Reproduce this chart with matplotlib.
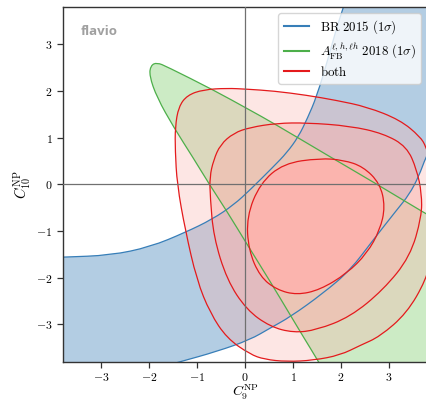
import numpy as np
import matplotlib

matplotlib.use("Agg")
import matplotlib.pyplot as plt
from matplotlib.path import Path
from matplotlib.patches import PathPatch
from matplotlib.lines import Line2D

plt.rcParams["mathtext.fontset"] = "cm"

# contour outlines, (C9, C10) pairs.
# points beyond +-3.8 only close the shapes outside the visible frame.
blue_upper = [(-4.2, -1.57), (-3.79, -1.56), (-2.81, -1.52), (-1.98, -1.34), (-1.25, -1.03),
              (-0.69, -0.75), (-0.24, -0.44), (0.10, -0.12), (0.59, 0.38), (0.87, 0.68),
              (1.11, 1.02), (1.30, 1.42), (1.49, 1.88), (1.74, 2.73), (1.91, 3.37),
              (2.05, 3.79), (2.15, 4.2)]
blue_lower = [(3.95, 0.95), (3.77, 0.59), (3.62, 0.17), (3.42, -0.22), (3.16, -0.55),
              (2.67, -1.19), (2.19, -1.84), (1.63, -2.33), (0.94, -2.84), (0.52, -3.08),
              (0.10, -3.33), (-0.59, -3.58), (-1.35, -3.80), (-2.0, -3.98)]
blue_corners_top = [(4.2, 4.2), (4.2, 1.2)]
blue_corners_bottom = [(-4.2, -4.2)]

green_outline = [(1.75, -4.2), (1.53, -3.80), (1.22, -3.28), (0.94, -2.80), (0.52, -2.08),
                 (0.03, -1.27), (-0.38, -0.58), (-0.76, 0.02), (-1.08, 0.56), (-1.49, 1.22),
                 (-1.84, 1.86), (-2.0, 2.33), (-1.97, 2.55), (-1.84, 2.61), (-1.63, 2.52),
                 (-0.66, 2.02), (0.10, 1.59), (0.59, 1.31), (1.77, 0.59), (2.67, 0.05),
                 (3.75, -0.62), (4.2, -0.88), (4.2, -4.2)]

red_3sigma = [(-1.42, 0.0), (-1.46, 0.73), (-1.46, 1.23), (-1.39, 1.66), (-1.21, 1.91),
              (-0.87, 2.03), (-0.38, 2.06), (0.03, 2.04), (0.6, 2.0), (1.28, 1.91),
              (1.9, 1.8), (2.54, 1.66), (3.23, 1.38), (3.65, 1.02), (3.77, 0.81),
              (3.9, 0.4), (3.95, -0.5), (3.9, -1.5), (3.77, -2.05), (3.37, -2.76),
              (2.81, -3.26), (2.40, -3.45), (1.98, -3.66), (1.42, -3.77), (0.87, -3.80),
              (0.40, -3.75), (0.10, -3.64), (-0.38, -3.30), (-0.73, -2.76), (-1.01, -2.05),
              (-1.25, -0.98)]
red_2sigma = [(-0.74, 0.16), (-0.66, 0.52), (-0.52, 0.85), (-0.24, 1.10), (0.10, 1.22),
              (0.66, 1.31), (1.28, 1.32), (2.19, 1.25), (2.88, 1.09), (3.37, 0.81),
              (3.58, 0.31), (3.68, -0.19), (3.68, -0.69), (3.44, -1.55), (2.88, -2.26),
              (2.19, -2.84), (1.49, -3.12), (1.01, -3.18), (0.52, -3.05), (0.03, -2.69),
              (-0.38, -2.05), (-0.66, -1.12), (-0.73, -0.27)]
red_1sigma = [(0.03, -0.69), (0.31, 0.02), (0.80, 0.45), (1.56, 0.56), (2.05, 0.52),
              (2.46, 0.38), (2.81, 0.02), (2.92, -0.48), (2.81, -0.98), (2.54, -1.48),
              (2.12, -1.91), (1.56, -2.26), (1.08, -2.37), (0.66, -2.26), (0.31, -1.98),
              (0.07, -1.41)]

ticks = [-3, -2, -1, 0, 1, 2, 3]
labels = [r"$\mathrm{BR\ 2015\ }(1\sigma)$",
          r"$A_\mathrm{FB}^{\ell,h,\ell h}\ \mathrm{2018\ }(1\sigma)$",
          r"$\mathrm{both}$"]

set1 = {"blue": "#377eb8", "green": "#4daf4a", "red": "#e41a1c"}
pastel = {"blue": "#b3cde3", "green": "#ccebc5", "red": "#fbb4ae"}


def smooth_path(pts):
    """closed path, quadratic segments through the midpoints of the outline."""
    pts = np.asarray(pts, dtype=float)
    mids = (pts + np.roll(pts, -1, axis=0)) / 2
    verts = [mids[-1]]
    codes = [Path.MOVETO]
    for p, m in zip(pts, mids):
        verts += [p, m]
        codes += [Path.CURVE3, Path.CURVE3]
    return Path(verts, codes)


fig = plt.figure(figsize=(4.26, 4.04), dpi=100)
ax = fig.add_axes([63 / 426, 42.3 / 404, 364.4 / 426, 354.7 / 404])

blue_path = smooth_path(blue_upper + blue_corners_top + blue_lower + blue_corners_bottom)
green_path = smooth_path(green_outline)
red_paths = [smooth_path(c) for c in (red_3sigma, red_2sigma, red_1sigma)]

ax.add_patch(PathPatch(blue_path, facecolor=pastel["blue"], edgecolor="none", zorder=1))
ax.add_patch(PathPatch(green_path, facecolor=pastel["green"], edgecolor="none", zorder=1.1))
for path, alpha in zip(red_paths, (1 / 3, 1 / 2, 1.0)):
    ax.add_patch(PathPatch(path, facecolor=pastel["red"], alpha=alpha, edgecolor="none", zorder=1.2))

ax.add_patch(PathPatch(blue_path, fill=False, edgecolor=set1["blue"], lw=0.9, zorder=2))
ax.add_patch(PathPatch(green_path, fill=False, edgecolor=set1["green"], lw=0.9, zorder=2))
for path in red_paths:
    ax.add_patch(PathPatch(path, fill=False, edgecolor=set1["red"], lw=0.9, zorder=2))

ax.axhline(0, color="#707070", lw=0.9, zorder=3)
ax.axvline(0, color="#707070", lw=0.9, zorder=3)

ax.set_xlim(-3.8, 3.8)
ax.set_ylim(-3.8, 3.8)
ax.set_xticks(ticks, [f"${t}$" for t in ticks], fontsize=8.5)
ax.set_yticks(ticks, [f"${t}$" for t in ticks], fontsize=8.5)
ax.tick_params(direction="out", length=4, width=0.9, color="#333333")
ax.tick_params(axis="x", pad=2.5)
for sp in ax.spines.values():
    sp.set_color("#333333")
    sp.set_linewidth(1.0)

# x label pinned just above the figure's bottom edge so the subscript stays inside
ax.set_xlabel(r"$C_9^\mathrm{NP}$", fontsize=10, va="bottom")
ax.xaxis.set_label_coords(0.5, -0.115)
ax.set_ylabel(r"$C_{10}^\mathrm{NP}$", fontsize=10.5, labelpad=2)

ax.text(0.05, 0.95, "flavio", transform=ax.transAxes, ha="left", va="top",
        fontsize=9.5, fontweight="bold", color="#a0a0a0", family="Open Sans", zorder=4)

handles = [Line2D([], [], color=set1[c], lw=1.5) for c in ("blue", "green", "red")]
ax.legend(handles, labels, loc="upper right", fontsize=9.3, labelspacing=0.3)

fig.savefig("out.png", dpi=100)
